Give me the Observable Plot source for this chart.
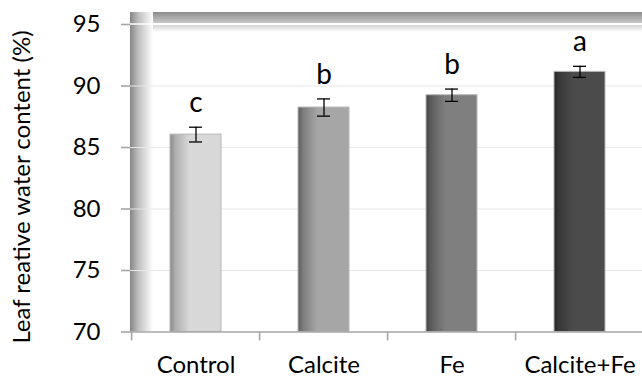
<!DOCTYPE html>
<html><head><meta charset="utf-8">
<script src="https://cdn.jsdelivr.net/npm/d3@7"></script>
<script src="https://cdn.jsdelivr.net/npm/@observablehq/plot@0.6"></script>
<style>body{margin:0;background:#fff;} #chart svg{display:block;}</style>
</head><body><div id="chart"></div>
<script>
const treatments = ["Control", "Calcite", "Fe", "Calcite+Fe"];
const means = [86.05, 88.25, 89.25, 91.15];
const errors = [0.6, 0.7, 0.5, 0.45];
const letters = ["c", "b", "b", "a"];
const baseColors = ["#d8d8d8", "#a6a6a6", "#7f7f7f", "#4b4b4b"];
const edgeColors = ["#8a8a8a", "#5c5c5c", "#424242", "#262626"];
const yTicks = [70, 75, 80, 85, 90, 95];
const yTitle = "Leaf reative water content (%)";

const data = treatments.map((t, i) => ({
  t, mean: means[i], err: errors[i], letter: letters[i], grad: `url(#barGrad${i})`
}));

const font = "Lato, 'Open Sans', sans-serif";

const plot = Plot.plot({
  width: 642, height: 378,
  marginLeft: 130, marginRight: 0, marginTop: 24, marginBottom: 46.5,
  style: {fontFamily: font, fontSize: "24px", color: "#000", background: "transparent", overflow: "visible"},
  x: {domain: treatments, range: [130.5, 645.5], paddingInner: 0.6, paddingOuter: 0.3, label: null},
  y: {domain: [70, 95], range: [331.5, 24], label: null},
  color: {type: "identity"},
  marks: [
    Plot.gridY(yTicks.filter(v => v > 70 && v < 95), {stroke: "#e8e8e8", strokeOpacity: 1, strokeWidth: 1.2}),
    Plot.barY(data, {x: "t", y1: 70, y2: "mean", fill: "grad", stroke: "#b8b8b8", strokeWidth: 1}),
    Plot.ruleX(data, {x: "t", y1: d => d.mean - d.err, y2: d => d.mean + d.err, stroke: "#000", strokeWidth: 1.3}),
    Plot.tickY(data, {x: "t", y: d => d.mean + d.err, insetLeft: 19, insetRight: 19, stroke: "#000", strokeWidth: 1.3}),
    Plot.tickY(data, {x: "t", y: d => d.mean - d.err, insetLeft: 19, insetRight: 19, stroke: "#000", strokeWidth: 1.3}),
    Plot.text(data, {x: "t", y: d => d.mean + d.err, text: "letter", dy: -15, lineAnchor: "bottom", fontSize: 28, fill: "#000"}),
    Plot.ruleY([70], {stroke: "#a6a6a6", strokeWidth: 1.6}),
    Plot.ruleX(treatments, {x: d => d, y1: 70, y2: 70, insetBottom: -9, dx: -64.4, stroke: "#a6a6a6", strokeWidth: 1.6}),
    Plot.axisY({ticks: yTicks, tickSize: 9, tickPadding: 21, stroke: "#a6a6a6", strokeWidth: 1.6, fontSize: 24, label: null}),
    Plot.axisX({tickSize: 0, tickPadding: 24, fontSize: 24, label: null}),
    Plot.text([yTitle], {frameAnchor: "left", textAnchor: "middle", lineAnchor: "middle", text: d => d, rotate: -90, dx: -108, dy: 8.75, fontSize: 24, fill: "#000"})
  ]
});

// gradients and 3D wall (Excel style) drawn behind the marks using the plot scales
const svg = d3.select(plot);
const defs = svg.insert("defs", ":first-child");
baseColors.forEach((c, i) => {
  const g = defs.append("linearGradient").attr("id", `barGrad${i}`).attr("x1", 0).attr("x2", 1).attr("y1", 0).attr("y2", 0);
  g.append("stop").attr("offset", "0%").attr("stop-color", edgeColors[i]);
  g.append("stop").attr("offset", "10%").attr("stop-color", d3.interpolateRgb(edgeColors[i], c)(0.45));
  g.append("stop").attr("offset", "38%").attr("stop-color", c);
  g.append("stop").attr("offset", "100%").attr("stop-color", c);
});
const gTop = defs.append("linearGradient").attr("id", "wallTop").attr("x1", 0).attr("x2", 0).attr("y1", 0).attr("y2", 1);
gTop.append("stop").attr("offset", "0%").attr("stop-color", "#8c8c8c");
gTop.append("stop").attr("offset", "100%").attr("stop-color", "#c8c8c8");
const gTop2 = defs.append("linearGradient").attr("id", "wallTop2").attr("x1", 0).attr("x2", 0).attr("y1", 0).attr("y2", 1);
gTop2.append("stop").attr("offset", "0%").attr("stop-color", "#d4d4d4");
gTop2.append("stop").attr("offset", "100%").attr("stop-color", "#ffffff");
const gLeft = defs.append("linearGradient").attr("id", "wallLeft").attr("x1", 0).attr("x2", 1).attr("y1", 0).attr("y2", 0);
gLeft.append("stop").attr("offset", "0%").attr("stop-color", "#858585");
gLeft.append("stop").attr("offset", "35%").attr("stop-color", "#bdbdbd");
gLeft.append("stop").attr("offset", "100%").attr("stop-color", "#ffffff");

const ys = plot.scale("y");
const yTop = ys.apply(95), yBot = ys.apply(70);
const xL = 130, xR = 642;
const wall = svg.insert("g", "defs + *");
wall.append("rect").attr("x", xL).attr("y", yTop - 12).attr("width", xR - xL).attr("height", 11).attr("fill", "url(#wallTop)");
wall.append("rect").attr("x", xL).attr("y", yTop + 1).attr("width", xR - xL).attr("height", 7).attr("fill", "url(#wallTop2)");
wall.append("rect").attr("x", xL).attr("y", yTop - 12).attr("width", 23).attr("height", yBot - yTop + 12).attr("fill", "url(#wallLeft)");
wall.append("line").attr("x1", xL).attr("x2", xR).attr("y1", yTop).attr("y2", yTop).attr("stroke", "#ffffff").attr("stroke-width", 1.5);

document.getElementById("chart").appendChild(plot);
</script>
</body></html>
